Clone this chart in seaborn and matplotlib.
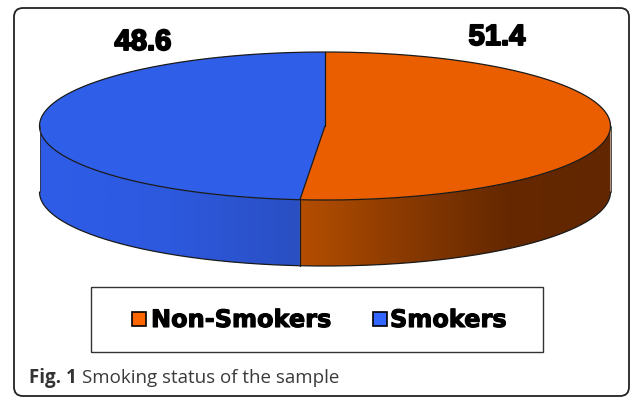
import numpy as np
import matplotlib
matplotlib.use("Agg")
import matplotlib.pyplot as plt
import seaborn as sns
from matplotlib.patches import Polygon, Rectangle, FancyBboxPatch
from matplotlib.colors import LinearSegmentedColormap
import matplotlib.patheffects as pe

# ---- data ----
categories = ["Non-Smokers", "Smokers"]
values = [51.4, 48.6]
top_colors = ["#EA5E00", "#2F5FE8"]
legend_colors = ["#FF6600", "#3366FF"]
side_gradients = [["#B44E00", "#8A3A00", "#652800", "#622700"],
                  ["#2F5DE8", "#2D59DE", "#2A4FC2"]]
label_pos = {"Non-Smokers": (497, 37), "Smokers": (143, 42)}
caption_bold = "Fig. 1"
caption_text = "Smoking status of the sample"

sns.set_theme(style="white")
plt.rcParams["font.family"] = ["DejaVu Sans"]

W, H = 634, 400
fig = plt.figure(figsize=(W / 100, H / 100), dpi=100)
ax = fig.add_axes([0, 0, 1, 1])
ax.set_xlim(0, W)
ax.set_ylim(H, 0)
ax.axis("off")

# pie geometry (pixel units)
cx, cy, a, b, depth = 325.0, 126.0, 285.5, 74.0, 66.0


def ell(t_deg, dy=0.0):
    t = np.radians(t_deg)
    return np.column_stack([cx + a * np.cos(t), cy - b * np.sin(t) + dy])


total = float(sum(values))
spans = [v / total * 360.0 for v in values]
starts, ends = [], []
s = 90.0
for sp in spans:
    starts.append(s)
    ends.append(s - sp)
    s -= sp

# side walls (visible front half: -180..0 degrees)
for i, (st, en) in enumerate(zip(starts, ends)):
    for k in (-1, 0, 1):
        lo = max(en, -180 + 360 * k)
        hi = min(st, 0 + 360 * k)
        if lo >= hi:
            continue
        tt = np.linspace(lo, hi, 200)
        top = ell(tt)
        bot = ell(tt[::-1], depth)
        pts = np.vstack([top, bot])
        poly = Polygon(pts, closed=True, fc="none", ec="none")
        ax.add_patch(poly)
        cmap = LinearSegmentedColormap.from_list(f"g{i}", side_gradients[i])
        x0, x1 = pts[:, 0].min(), pts[:, 0].max()
        y0, y1 = pts[:, 1].min(), pts[:, 1].max()
        grad = np.linspace(0, 1, 256)[None, :]
        im = ax.imshow(grad, cmap=cmap, extent=(x0, x1, y1, y0),
                       aspect="auto", interpolation="bilinear", zorder=1)
        im.set_clip_path(poly)
        ax.plot(ell(tt, depth)[:, 0], ell(tt, depth)[:, 1], color="#1a1a1a",
                lw=0.9, zorder=3)

# top faces
for i, (st, en) in enumerate(zip(starts, ends)):
    tt = np.linspace(st, en, 300)
    pts = np.vstack([[cx, cy], ell(tt)])
    ax.add_patch(Polygon(pts, closed=True, fc=top_colors[i], ec="none", zorder=2))

# outlines
tt = np.linspace(0, 360, 600)
e = ell(tt)
ax.plot(e[:, 0], e[:, 1], color="#1a1a1a", lw=0.9, zorder=3)
for st in starts:
    p = ell([st])[0]
    ax.plot([cx, p[0]], [cy, p[1]], color="#1a1a1a", lw=0.9, zorder=3)
    if np.sin(np.radians(st)) < 0:
        ax.plot([p[0], p[0]], [p[1], p[1] + depth], color="#1a1a1a", lw=0.9, zorder=3)
for t in (-180, 0):
    p = ell([t])[0]
    ax.plot([p[0], p[0]], [p[1], p[1] + depth], color="#333333", lw=0.6, zorder=3)

# value labels
for cat, v in zip(categories, values):
    x, y = label_pos[cat]
    ax.text(x, y, f"{v}", ha="center", va="center", fontsize=21,
            fontweight="bold", color="black", zorder=4,
            family=["Liberation Sans", "DejaVu Sans"],
            path_effects=[pe.withStroke(linewidth=1.4, foreground="black")])

# legend box
ax.add_patch(Rectangle((91, 287), 452, 65, fc="white", ec="#333333", lw=1.0, zorder=4))
leg_items = [(132, 151), (373, 390)]
for (sx, tx), cat, col in zip(leg_items, categories, legend_colors):
    ax.add_patch(Rectangle((sx, 312), 14, 14, fc=col, ec="black", lw=1.2, zorder=5))
    ax.text(tx, 320, cat, ha="left", va="center", fontsize=17.3, fontweight="bold",
            color="black", zorder=5,
            path_effects=[pe.withStroke(linewidth=0.8, foreground="black")])

# outer frame
ax.add_patch(FancyBboxPatch((14, 8), 615, 388,
                            boxstyle="round,pad=0,rounding_size=9",
                            fc="none", ec="#222222", lw=1.3, zorder=6))

# caption
t1 = ax.text(29, 378, caption_bold, ha="left", va="center", fontsize=13.5,
             fontweight="bold", color="#333333", family=["Open Sans", "DejaVu Sans"])
fig.canvas.draw()
bb = t1.get_window_extent(renderer=fig.canvas.get_renderer())
x_end = ax.transData.inverted().transform((bb.x1, bb.y0))[0]
ax.text(x_end + 5, 378, caption_text, ha="left", va="center", fontsize=13.5,
        color="#3a3a3a", family=["Open Sans", "DejaVu Sans"])

fig.savefig("out.png", dpi=100)
